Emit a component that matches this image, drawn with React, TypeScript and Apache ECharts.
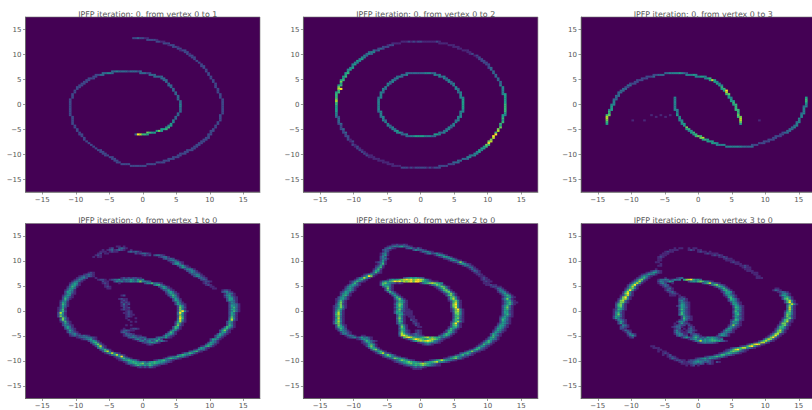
import React, { useEffect, useRef } from "react";
import * as echarts from "echarts";

const tickLabels = [-15, -10, -5, 0, 5, 10, 15];
const titles = [
  "IPFP iteration: 0, from vertex 0 to 1",
  "IPFP iteration: 0, from vertex 0 to 2",
  "IPFP iteration: 0, from vertex 0 to 3",
  "IPFP iteration: 0, from vertex 1 to 0",
  "IPFP iteration: 0, from vertex 2 to 0",
  "IPFP iteration: 0, from vertex 3 to 0",
];
const viridis = ["#440154", "#482878", "#3e4989", "#31688e", "#26828e", "#1f9e89", "#35b779", "#6ece58", "#b5de2b", "#fde725"];

// each row: "<row bin> <col bin>:<intensities> ..."; 100 x 100 bins over -17.5..17.5
const vertex01 = [
  "88 46:2232211","87 52:22221","86 56:2211","85 59:222","84 61:122","83 63:221","82 65:22","81 66:122","80 68:22","79 69:21","78 70:22","77 71:22","76 72:2","75 73:2","74 74:2","73 75:2","72 75:22","71 76:2","70 77:2",
  "69 37:3343333233323 77:2","68 33:33443 49:33322 78:2","67 30:2233 53:333 78:2","66 29:22 55:3333 79:2","65 27:222 58:33 79:2","64 26:22 59:33 80:2","63 25:22 60:3 80:2","62 24:22 61:3 81:2","61 23:22 61:33 81:2","60 22:22 62:3 81:2","59 22:2 63:3 82:2","58 21:2 63:3 82:2","57 21:2 64:3 82:2","56 20:2 64:3 83:2","55 20:2 65:3 83:2","54 20:2 65:3 83:2","53 19:2 65:3 84:2",
  "52 19:2 66:3 84:2","51 19:2 66:3 84:2","50 19:2 66:4 84:2","49 19:2 66:4 84:2","48 19:2 66:3 84:2","47 19:2 66:3 84:2","46 19:2 66:3 84:2","45 19:2 65:3 84:2","44 19:2 65:3 83:2","43 20:2 64:3 83:2","42 20:2 64:3 83:2","41 20:2 63:4 83:2","40 20:2 63:4 82:2","39 20:2 62:5 82:2","38 21:2 61:45 81:2","37 21:2 60:46 81:2","36 22:2 58:556 80:2","35 22:2 56:575 79:22","34 23:2 52:7655 79:2","33 23:22 47:398665 78:22",
  "32 24:2 78:2","31 25:2 77:22","30 25:2 76:22","29 26:2 75:22","28 27:2 74:22","27 28:2 73:22","26 29:2 72:22","25 30:2 71:22","24 31:22 69:222","23 32:22 68:22","22 33:22 66:222","21 34:22 65:22","20 36:22 63:222","19 37:22 61:222","18 38:22 59:222","17 39:22 56:2222","16 41:2222 52:2222","15 45:2222222",
];
const vertex02 = [
  "86 42:11121212211111121","85 38:1111 58:1111","84 36:122 62:111","83 34:222 64:111","82 32:232 66:11","81 30:323 68:111","80 28:344 70:11","79 27:343 71:12","78 26:43 73:12","77 25:44 74:12","76 24:45 75:22","75 23:54 76:22","74 22:44 77:22","73 21:45 78:22","72 21:4 79:2","71 20:45 79:23","70 19:45 80:3","69 19:5 81:3",
  "68 18:56 44:3333333344433 81:3","67 18:5 42:334 56:434 82:3","66 17:56 40:343 58:434 82:3","65 17:5 39:34 60:43 83:3","64 16:56 38:43 61:34 83:3","63 16:7 37:34 62:43 84:3","62 16:5 36:43 63:34 84:3","61 15:56 36:4 64:4 84:4","60 15:7 35:4 65:4 85:4","59 15:89 34:43 65:43 85:4","58 15:6 34:4 66:4 85:4","57 14:56 33:43 66:34 85:4","56 14:6 33:4 67:4 85:45","55 14:6 33:4 67:4 86:5","54 14:6 32:34 67:44 86:5",
  "53 14:7 32:4 68:5 86:5","52 14:8 32:4 68:5 86:5","51 14:6 32:4 68:5 86:5","50 14:6 32:4 68:5 86:6","49 14:5 32:4 68:5 86:6","48 14:5 32:4 68:5 86:6","47 14:5 32:4 68:4 86:6","46 14:5 32:34 67:44 86:6","45 14:4 33:4 67:4 86:5","44 14:4 33:4 67:4 85:54","43 14:32 33:34 66:44 85:5","42 15:3 34:4 66:4 85:6","41 15:3 34:43 65:34 85:5","40 15:3 35:4 65:4 85:6","39 15:23 36:4 64:4 84:6","38 16:2 36:43 63:34 84:5","37 16:2 37:34 62:43 84:7","36 16:23 38:43 61:34 83:7","35 17:2 39:45 60:34 83:8","34 17:23 40:453 58:434 82:6","33 18:2 42:334 56:554 82:9",
  "32 18:22 44:3344555544433 81:9","31 19:2 81:8","30 19:21 80:7","29 20:12 79:78","28 21:1 79:9","27 21:21 78:76","26 22:12 77:56","25 23:21 76:55","24 24:21 75:54","23 25:21 74:45","22 26:21 73:44","21 27:211 71:344","20 28:111 70:44","19 30:111 68:333","18 32:111 66:33","17 34:111 64:333","16 36:111 62:222","15 38:1111 58:2222","14 42:22212122222121222",
];
const vertex03 = [
  "68 36:3344445432","67 31:22333 45:44454","66 28:2223 49:44554","65 26:222 53:456","64 24:222 55:585","63 23:22 57:54","62 21:222 58:54","61 20:33 59:54","60 19:22 60:6","59 18:33 60:56","58 17:33 61:59","57 16:33 62:8","56 16:3 62:67","55 15:33 63:5",
  "54 15:3 63:54 40:4 96:5","53 14:33 64:5 40:4 96:6","52 14:4 64:55 40:4 96:6","51 14:4 65:6 40:4 96:5","50 13:44 65:56 40:4 96:4","49 13:5 66:6 40:4 95:34","48 13:5 66:6 40:4 95:4","47 12:45 66:66 40:44 95:4","46 12:6 67:6 41:4 95:4","45 12:6 67:6 41:4 94:34","44 11:67 67:7 41:5 94:4 30:1 34:1 38:1","43 11:8 67:67 42:4 94:4 32:1 36:1","42 11:8 68:8 42:5 93:4","41 11:7 68:8 42:44 93:4 22:1 27:1 76:1","40 11:6 68:7 43:5 92:34","39 11:5 68:5 43:45 92:4",
  "38 44:5 91:34","37 45:7 90:34","36 45:56 89:33","35 46:45 88:33","34 47:56 86:233","33 48:56 85:22","32 49:676 83:222","31 51:78 82:22","30 52:565 80:222","29 54:555 78:222","28 56:554 76:222","27 58:4444 73:222","26 62:444444433333",
];
const vertex10 = [
  "87 39:11 42:1","86 36:12 40:2321","85 33:1 35:12312321 45:1","84 32:111 36:1211 44:232321","83 31:12 34:11 47:2123321","82 30:121 50:1212 55:23321","81 29:1 31:11 57:12331","80 59:23232","79 61:23431","78 62:124421","77 63:24531","76 65:24521","75 66:25421","74 68:24431","73 69:23431","72 27:121 70:24321","71 25:12321 71:23431","70 23:1232321 72:24421","69 22:12342 30:1 41:1212 45:12211 74:2321",
  "68 21:12431 31:1221 36:123 39:3523435425 49:34 75:232","67 20:13431 33:211 38:24342335 46:43574432 76:1221","66 19:13541 33:121 40:1 51:24463321 76:121","65 19:24531 34:11 55:35631 77:121","64 18:13641 34:121 57:24531 79:11","63 18:2453 35:11 58:25421 80:11","62 17:13541 59:23521 84:1221","61 17:25431 60:24531 84:23421","60 17:24521 60:135421 85:13431","59 16:13541 41:12 61:24641 85:24521","58 16:25421 62:2542 85:135421","57 16:2631 40:1211 63:2531 86:25521","56 15:1352 41:121 63:2542 86:25431","55 15:2541 41:2121 64:2531 87:2431","54 15:2641 41:1312 64:25421 87:24431","53 15:2531 41:121 65:2641 87:25431","52 14:1252 42:212 65:2742 87:24631","51 14:1361 41:1211 65:2741 87:25531","50 14:1462 43:121 65:27941 87:24631","49 14:2841 42:1121 65:3951 87:2531","48 14:2641 43:1211 65:3741 87:2541","47 14:2742 43:121 65:2851 87:2631","46 15:2741 43:1 47:1 65:3961 87:3741","45 15:3731 44:1 65:3841 87:3831","44 15:13621 45:1 47:1 64:15831 86:2541","43 16:2531 64:2641 86:2531","42 16:24321 43:1 45:1 64:2731 86:2641","41 17:3531 63:2651 85:26531","40 17:25321 42:1 45:1221 63:2641 84:25631","39 18:2531 41:123211 62:2541 83:25731","38 18:24321 41:2321 61:2641 83:25521","37 19:23421 42:13221 60:24531 82:25421","36 19:123232321 42:12323211 59:25421 81:24531","35 22:123343321 44:23432332 56:2343521 81:2531","34 24:1234521 46:1343242334352 79:25531","33 27:24531 48:1342342363421 79:2431","32 28:25631 50:12345421 78:25431","31 29:25731 52:121 77:25531","30 30:25821 75:125631","29 31:3631 74:25421","28 32:24631 72:125431","27 33:26831 70:235621","26 34:1358421 67:1346531","25 36:1358421 65:2465431","24 38:135931 61:123465421","23 39:1246431 59:13565421","22 40:124565431 55:124564321","21 42:124565434324565554321","20 43:134565674565654321","19 45:1246545465321","18 48:12121321",
];
const vertex20 = [
  "88 38:1121121","87 36:12343453321","86 35:23421 44:2342131","85 34:2321 47:243321","84 34:132 50:134421","83 33:1341 52:13423421","82 33:1351 56:135431","81 33:242 58:125531","80 33:2341 60:124531","79 33:252 62:135421","78 31:12351 64:124731","77 32:1361 66:135421","76 31:1252 68:13421","75 31:2461 70:1331","74 30:1362 71:1321","73 30:2551 72:1321","72 29:13621 73:121","71 26:124531 74:121","70 25:135971 75:111","69 23:134852 43:234545432 76:121",
  "68 22:135631 36:1354567898978987531 76:1211","67 20:1246421 33:135467989787897 48:99865 53:43211 77:1211","66 20:13631 33:2675432121 50:1356787654 77:111","65 19:135431 33:265431 54:1357631 78:11211","64 18:135421 34:25631 56:1357631 80:12211","63 18:24531 35:2731 57:135741 82:1331","62 17:134531 35:2631 58:136741 83:2431","61 16:125431 36:2631 59:136731 83:13431","60 16:24541 37:2531 60:125741 84:13531","59 16:25631 38:2531 61:26741 85:24641","58 15:24531 39:3641 62:26741 85:135521","57 14:124531 39:25731 62:26841 85:24731","56 14:13631 39:136531 62:136741 85:135521","55 14:14731 39:146531 63:26841 85:1356311","54 14:25721 39:257621 63:27941 85:135631","53 13:124731 39:147521 63:27841 85:24631","52 13:135741 39:256521 63:26941 85:25731","51 13:13652 39:1474211 63:137941 85:25631","50 13:14741 39:25632111 63:137841 85:25521","49 13:15831 39:25541111 64:27741 85:25521","48 13:16841 40:3652111 64:26741 85:24631","47 13:15731 40:2631 45:111 64:26631 84:135421","46 13:14831 40:3741 46:11 64:26731 84:25531","45 13:15731 40:2631 46:211 64:36521 84:26431","44 13:25841 40:2651 47:21 63:136841 84:25421","43 13:26731 40:2531 47:121 63:26941 83:135431","42 14:27521 41:3631 48:21 63:26741 83:25531","41 14:26541 41:2741 49:11 62:125631 82:135421","40 14:13642 41:3651 62:26531 82:25531","39 15:25431 41:26521 48:121 61:25631 81:135421","38 16:24321 41:37521 48:121 60:126531 81:25431","37 16:13421 41:386321 47:2321 59:136531 80:25421","36 18:13431 25:11 41:28974323321 58:235641 80:26431","35 19:12342353421 42:168986545678676563421 79:25631","34 23:1245431 44:13579876567876421 78:135431","33 25:1364321 46:13578789874321 77:136421","32 25:124531 49:1235654321 76:135631","31 26:125641 51:12321 75:126431","30 27:25741 74:135421","29 28:26531 73:146321","28 29:26741 71:1256421","27 30:135631 69:1357421","26 31:1368321 67:2356421","25 33:1357531 65:12463421","24 34:13564321 62:124654321","23 36:124765431 60:123567431","22 38:1235765321 54:123568654321","21 39:123456765432134567854321","20 41:124567566787654321","19 43:1234565676543211","18 46:1232321","17 47:1111",
];
const vertex30 = [
  "86 40:1 42:11 46:1 48:11","85 38:111 41:1 46:121 50:11","84 36:1211 50:1211 55:1","83 35:111 37:1 53:1211 57:11","82 34:11 36:1 56:12121","81 33:121 59:1121","80 33:11 61:1211","79 33:11 62:1111","78 32:11 64:1211","77 34:1 66:111","76 33:11 68:1121","75 69:1211","74 32:1 70:111","73 30:12321 71:111","72 28:1235421 73:111","71 26:1235431 74:11","70 25:135421 75:11","69 24:124631 36:1 41:123 75:111",
  "68 23:136731 33:13343 38:12434 44:57896453","67 22:135841 33:2432354 46:2454676 53:4421","66 21:136851 33:1342 39:1 52:24684321","65 20:136931 34:1232 55:1367421","64 20:25841 35:1321 57:136531","63 19:136741 36:1231 59:24631 83:11","62 19:26951 36:1321 60:25631 82:1321","61 18:15841 37:1231 60:125541 84:12321","60 18:27941 38:1221 61:25531 85:13431","59 17:126831 38:111 42:1 61:135431 85:25531","58 17:27941 42:121 62:15631 86:25641","57 16:137841 42:2231 63:26531 86:26741","56 16:27831 42:3421 63:25531 87:26841","55 15:137731 42:24321 64:25421 87:26941","54 15:26741 42:25421 64:15531 88:26841","53 15:26731 41:135421 65:25421 88:3741","52 15:25631 42:25431 65:26531 88:3831","51 14:126531 42:36421 65:15531 88:3841","50 14:13531 42:25421 65:26431 87:15731","49 14:14621 42:26321 65:25521 87:26631","48 14:14731 42:36421 65:15631 87:27631","47 14:25531 43:25321 65:25421 87:37521","46 14:25421 43:26321 65:15431 86:136731","45 15:14321 42:125311 64:126521 86:26731","44 16:2531 41:14431 64:25431 85:136821","43 16:2521 40:1 42:252 45:21 64:24531 85:27731","42 17:1431 40:12322 46:21 63:137321 84:136731","41 17:2321 39:1 40:2331 46:121 63:24421 84:26631","40 17:221 40:123 44:1 46:231 62:25421 83:136531","39 18:1321 40:2421 45:12321 61:25431 83:26841","38 19:132 40:24311 45:1 46:331 60:134321 82:137731","37 20:2421 40:13431 45:1 47:2221 59:24431 81:137821","36 20:1352 41:24322 47:1 48:3431 58:135431 80:136941","35 21:12 43:135324642325454321 79:137941","34 46:134535 52:354565434 78:268731","33 48:135845456655321 76:1368621","32 50:12343 55:3321 74:1258831","31 71:13689821","30 30:11 68:123689 74:521","29 31:111 64:123568 70:85321","28 33:11 62:1236 66:89 68:6321","27 33:1 35:11 61:1236 65:765321","26 35:121 59:123 62:5 63:6 64:54321","25 35:1 37:12 57:1236 61:64321","24 37:1221 53:1234565421","23 38:1321 49:123453 55:54321","22 40:1221 44:1 46:12234334321","21 42:121 45:122 48:34543 53:2321 58:21","20 43:111 46:123323 52:2 54:121","19 45:1 47:12 50:1",
];
const panels = [vertex01, vertex02, vertex03, vertex10, vertex20, vertex30];

const BIN = 0.35;
const toCells = (rows: string[]) => {
  const cells: number[][] = [];
  for (const row of rows) {
    const parts = row.split(" ");
    const r = Number(parts[0]);
    for (const run of parts.slice(1)) {
      const [c, digits] = run.split(":");
      [...digits].forEach((d, i) => {
        if (d !== "0") cells.push([(Number(c) + i - 50) * BIN, (r - 50) * BIN, Number(d)]);
      });
    }
  }
  return cells;
};

const lefts = [25.5, 303.4, 581];
const tops = [17, 223.5];
const W = 234.5;
const H = 175;
const GRAY = "#555";

const renderCell = (_: any, api: any) => {
  const p = api.coord([api.value(0) - BIN / 2, api.value(1) + BIN / 2]);
  const s = api.size([BIN, BIN]);
  return {
    type: "rect",
    shape: { x: p[0], y: p[1], width: s[0] + 0.3, height: s[1] + 0.3 },
    style: { fill: api.visual("color") },
  };
};

export default function App() {
  const ref = useRef<HTMLDivElement>(null);
  useEffect(() => {
    document.body.style.margin = "0";
    const chart = echarts.init(ref.current!, null, { renderer: "svg" });
    const idx = panels.map((_, i) => i);
    const axis = (i: number) => ({
      gridIndex: i,
      type: "value",
      min: -17.5,
      max: 17.5,
      splitLine: { show: false },
      axisLine: { show: true, onZero: false, lineStyle: { color: GRAY, width: 0.6 } },
      axisTick: { show: true, customValues: tickLabels, length: 2.5, lineStyle: { color: GRAY, width: 0.6 } },
      axisLabel: {
        show: true,
        customValues: tickLabels,
        margin: 4,
        color: GRAY,
        fontSize: 7,
        fontFamily: "DejaVu Sans",
        formatter: (v: number) => String(v).replace("-", "\u2212"),
      },
    });
    chart.setOption({
      animation: false,
      backgroundColor: "#fff",
      title: titles.map((text, i) => ({
        text,
        left: lefts[i % 3] + W / 2,
        top: tops[Math.floor(i / 3)] - 12,
        textAlign: "center",
        textStyle: { color: GRAY, fontSize: 7.9, fontWeight: "normal", fontFamily: "DejaVu Sans" },
      })),
      grid: idx.map((i) => ({
        left: lefts[i % 3],
        top: tops[Math.floor(i / 3)],
        width: W,
        height: H,
        show: true,
        backgroundColor: viridis[0],
        borderColor: "#777",
        borderWidth: 0.6,
      })),
      xAxis: idx.map(axis),
      yAxis: idx.map(axis),
      visualMap: { show: false, type: "continuous", min: 0, max: 9, dimension: 2, seriesIndex: idx, inRange: { color: viridis } },
      series: idx.map((i) => ({
        type: "custom",
        xAxisIndex: i,
        yAxisIndex: i,
        silent: true,
        clip: true,
        encode: { x: 0, y: 1 },
        renderItem: renderCell,
        data: toCells(panels[i]),
      })),
    });
    return () => chart.dispose();
  }, []);
  return (
    <div style={{ position: "fixed", left: 0, top: 0, width: 812, height: 410, overflow: "hidden", background: "#fff" }}>
      <div ref={ref} style={{ width: 820, height: 410 }} />
    </div>
  );
}
